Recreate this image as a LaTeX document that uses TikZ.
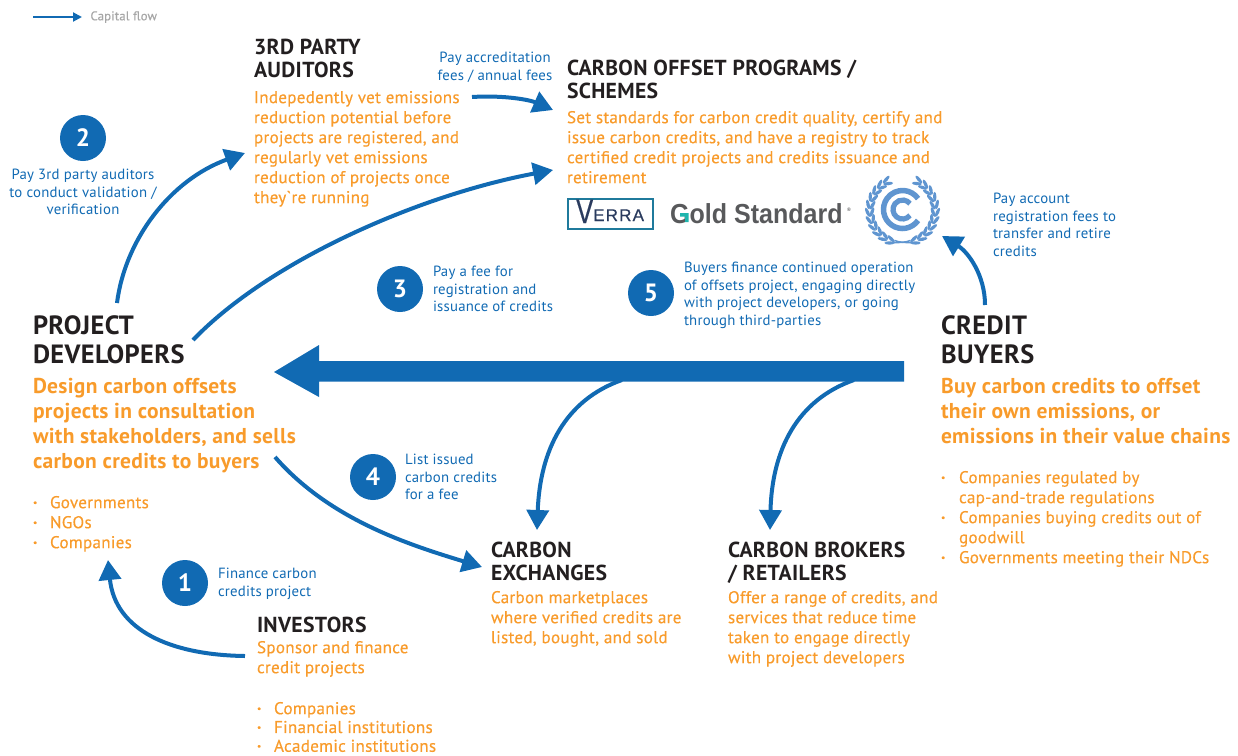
\documentclass[tikz,border=0pt]{standalone}
\usepackage{fontspec}
\usepackage{graphicx}
\newfontfamily\din[LetterSpace=1.5]{PT Sans}
\newfontfamily\dinm[LetterSpace=1.5,FakeBold=0.35]{PT Sans}
\newfontfamily\logofont{Liberation Sans}
\newfontfamily\verrafont[LetterSpace=7,FakeBold=0.6]{Liberation Sans}
\usetikzlibrary{arrows.meta}
\definecolor{flow}{HTML}{116AB3}
\definecolor{org}{HTML}{F89B2B}
\definecolor{ink}{HTML}{231F20}
\definecolor{unblue}{HTML}{5F95D0}
\definecolor{verrabox}{HTML}{1F7A9C}
\definecolor{verraink}{HTML}{2A3B5E}
\definecolor{goldgray}{HTML}{58595B}
\definecolor{goldteal}{HTML}{1FB5AD}
\newcommand{\fs}[2]{\fontsize{#1}{#2}\selectfont}
\newcommand{\bul}{\makebox[17pt][l]{\textbf{·}}}
\tikzset{
  x=1pt,y=-1pt,
  txt/.style={inner sep=0pt,outer sep=0pt,anchor=north west,align=left,execute at begin node=\strut},
  head/.style={txt,text=ink,font=\din\bfseries\fs{21.7}{23}},
  bighead/.style={txt,text=ink,font=\din\bfseries\fs{26.4}{29}},
  body/.style={txt,text=org,font=\dinm\fs{17.1}{20}},
  bigbody/.style={txt,text=org,font=\din\bfseries\fs{21.5}{25}},
  lab/.style={txt,text=flow,font=\din\fs{14.8}{17.6}},
  num/.style={circle,fill=flow,text=white,minimum size=46pt,inner sep=0pt,font=\din\bfseries\fs{25}{25}},
  flowline/.style={draw=flow,line width=4pt,-{Triangle[length=20pt,width=22pt]}},
}
\begin{document}
\begin{tikzpicture}
\useasboundingbox (0,0) rectangle (1238,755);
% legend
\coordinate (lega) at (33,17); \coordinate (legb) at (82,17);
\draw[draw=flow,line width=2pt,-{Triangle[length=9pt,width=9pt]}] (lega) -- (legb);
\node[txt,text=gray!70,font=\dinm\fs{12.7}{14}] (legend) at (90.5,10.5) {Capital flow};
% auditors
\node[head] (aud) at (254,38.9) {3RD PARTY\\AUDITORS};
\node[body] (audt) at (254,91) {Indepedently vet emissions\\reduction potential before\\projects are registered, and\\regularly vet emissions\\reduction of projects once\\they`re running};
% programs
\node[head] (prog) at (567,59.9) {CARBON OFFSET PROGRAMS /\\SCHEMES};
\node[body] (progt) at (567,111) {Set standards for carbon credit quality, certify and\\issue carbon credits, and have a registry to track\\certified credit projects and credits issuance and\\retirement};
% developers
\node[bighead] (dev) at (33,315.2) {PROJECT\\DEVELOPERS};
\node[bigbody] (devt) at (33,378.5) {Design carbon offsets\\projects in consultation\\with stakeholders, and sells\\carbon credits to buyers};
\node[body] (devl) at (33,496) {\bul Governments\\\bul NGOs\\\bul Companies};
% buyers
\node[bighead] (buy) at (941,315.2) {CREDIT\\BUYERS};
\node[bigbody] (buyt) at (941,378.5) {Buy carbon credits to offset\\their own emissions, or\\emissions in their value chains};
\node[body] (buyl) at (941,471) {\makebox[18pt][l]{\textbf{·}}Companies regulated by\\\hspace*{18pt}cap-and-trade regulations\\\makebox[18pt][l]{\textbf{·}}Companies buying credits out of\\\hspace*{18pt}goodwill\\\makebox[18pt][l]{\textbf{·}}Governments meeting their NDCs};
% exchanges
\node[head] (exch) at (491,541.9) {CARBON\\EXCHANGES};
\node[body] (excht) at (491,591) {Carbon marketplaces\\where verified credits are\\listed, bought, and sold};
% brokers
\node[head] (brok) at (728,541.9) {CARBON BROKERS\\/ RETAILERS};
\node[body] (brokt) at (728,591) {Offer a range of credits, and\\services that reduce time\\taken to engage directly\\with project developers};
% investors
\node[head] (inv) at (257,615.9) {INVESTORS};
\node[body] (invt) at (257,641) {Sponsor and finance\\credit projects};
\node[body,font=\dinm\fs{17.1}{18.8}] (invl) at (257,702) {\bul Companies\\\bul Financial institutions\\\bul Academic institutions};
% numbers
\node[num] (n2) at (83,138) {2};
\node[num] (n3) at (400,289) {3};
\node[num] (n5) at (651,293) {5};
\node[num] (n4) at (373,477) {4};
\node[num] (n1) at (185,583) {1};
% labels
\node[lab,anchor=north,align=center] (l2) at (83,169) {Pay 3rd party auditors\\to conduct validation /\\verification};
\node[lab,anchor=north,align=center] (la) at (495,52) {Pay accreditation\\fees / annual fees};
\node[lab] (l3) at (433,266) {Pay a fee for\\registration and\\issuance of credits};
\node[lab] (l5) at (684,262) {Buyers finance continued operation\\of offsets project, engaging directly\\with project developers, or going\\through third-parties};
\node[lab] (lu) at (993,193) {Pay account\\registration fees to\\transfer and retire\\credits};
\node[lab] (l4) at (405,454) {List issued\\carbon credits\\for a fee};
\node[lab] (l1) at (218,568) {Finance carbon\\credits project};
% connectors
\coordinate (a2s) at (117,303); \coordinate (a2e) at (245,153);
\draw[flowline] (a2s) .. controls (125,240) and (170,180) .. (a2e);
\coordinate (a3s) at (193,340); \coordinate (a3e) at (553,170);
\draw[flowline] (a3s) .. controls (270,260) and (420,195) .. (a3e);
\coordinate (aas) at (472,97); \coordinate (aae) at (553,110);
\draw[flowline] (aas) .. controls (505,95) and (530,100) .. (aae);
\coordinate (aus) at (985,305); \coordinate (aue) at (942,236);
\draw[flowline] (aus) .. controls (985,275) and (968,252) .. (aue);
\coordinate (a4s) at (275,457); \coordinate (a4e) at (482,567);
\draw[flowline] (a4s) .. controls (330,520) and (410,545) .. (a4e);
\coordinate (a1s) at (245,656); \coordinate (a1e) at (108,560);
\draw[flowline] (a1s) .. controls (170,655) and (115,630) .. (a1e);
\coordinate (bxs) at (622,380); \coordinate (bxe) at (537,530);
\draw[flowline] (bxs) .. controls (565,400) and (540,450) .. (bxe);
\coordinate (brs) at (854,380); \coordinate (bre) at (770,530);
\draw[flowline] (brs) .. controls (797,400) and (772,450) .. (bre);
% big arrow
\fill[flow] (904,361) -- (319,361) -- (319,345) -- (274,372) -- (319,397) -- (319,381.5) -- (904,381.5) -- cycle;
% logos
\draw[draw=verrabox,line width=2.4pt] (568,199) rectangle (653,229);
\node[inner sep=0pt,anchor=base west,text=verraink,font=\verrafont\fs{17}{17}] (verra) at (576,221) {\raisebox{-2pt}[0pt][0pt]{\fontsize{34}{34}\selectfont\scalebox{.75}[1]{V}}ERRA};
\node[inner sep=0pt,anchor=base west,text=goldgray,font=\logofont\bfseries\fs{27.5}{28}] (gold) at (670,223) {\scalebox{.91}[1]{Gold Standard}\,\raisebox{12pt}{\fontsize{5}{5}\selectfont®}};
\fill[goldteal] (680,213) -- (688.5,213) -- (688.5,222) -- (685,222) -- (685,216.5) -- (680,216.5) -- cycle;
% UN emblem
\begin{scope}[shift={(902.5,209.5)}]
\draw[unblue,line width=5.5pt] (35:19) arc[start angle=35,end angle=325,radius=19];
\draw[unblue,line width=5.2pt] (38:9.5) arc[start angle=38,end angle=322,radius=9.5];
\end{scope}
\begin{scope}[shift={(902.5,210.5)}]
\foreach \a in {112,125,...,242}{
 \fill[unblue,shift={(\a:30.5)},rotate=-\a+90-22] (0,0) ellipse[x radius=5,y radius=1.7];
 \fill[unblue,shift={(\a:35)},rotate=-\a+90+22] (0,0) ellipse[x radius=5,y radius=1.7];
}
\foreach \a in {68,55,...,-62}{
 \fill[unblue,shift={(\a:30.5)},rotate=-\a+90+22] (0,0) ellipse[x radius=5,y radius=1.7];
 \fill[unblue,shift={(\a:35)},rotate=-\a+90-22] (0,0) ellipse[x radius=5,y radius=1.7];
}
\draw[unblue,line width=1.5pt] (105:31) .. controls (96:32) and (88:32) .. (72:34);
\draw[unblue,line width=1.5pt] (75:31) .. controls (84:32) and (92:32) .. (108:34);
\end{scope}
\end{tikzpicture}
\end{document}
